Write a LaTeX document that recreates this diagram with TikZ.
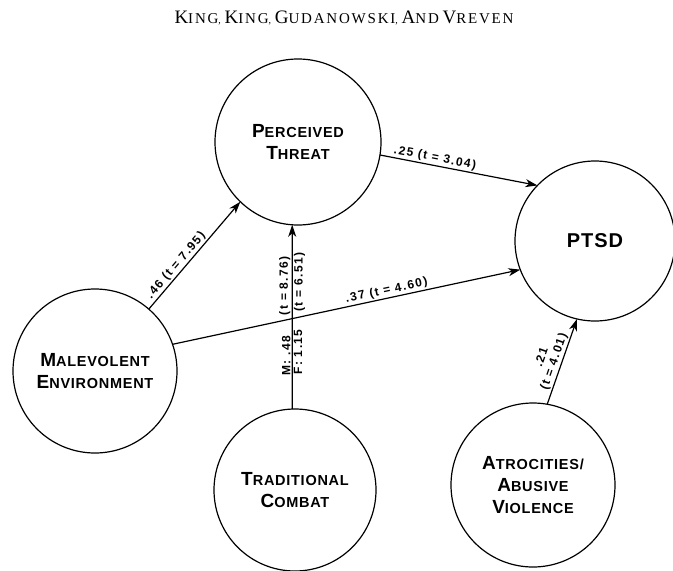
\documentclass[tikz,border=0pt]{standalone}
\usepackage{fontspec}
\setmainfont{Liberation Serif}
\newfontfamily\headfont{Liberation Serif}[LetterSpace=12]
\newfontfamily\namefont{Liberation Sans}[LetterSpace=5]
\newfontfamily\coeffont{Liberation Sans}[LetterSpace=12]
\usetikzlibrary{arrows.meta}

% small-capital words: large initial, smaller remainder
\newcommand{\headcap}[2]{{\fontsize{19}{20}\selectfont #1}{\fontsize{15}{16}\selectfont #2}}
\newcommand{\namecap}[2]{{\fontsize{19}{20}\selectfont #1}{\fontsize{14.5}{16}\selectfont #2}}

\begin{document}
\begin{tikzpicture}[x=1pt,y=-1pt,
  factor/.style={circle, draw, line width=1.2pt, inner sep=0pt, outer sep=0pt,
    align=center, font=\namefont\bfseries\fontsize{14.5}{22}\selectfont},
  link/.style={line width=1.2pt, -{Stealth[length=12pt,width=8pt,inset=3.5pt]}},
  coef/.style={font=\coeffont\bfseries\fontsize{12}{13}\selectfont, inner sep=1.2pt}
]
\useasboundingbox (0,0) rectangle (673,571);

% running head
\node[font=\headfont] (head) at (344,18)
  {\headcap{K}{ING}, \headcap{K}{ING}, \headcap{G}{UDANOWSKI}, \headcap{A}{ND} \headcap{V}{REVEN}};

% latent factors
\node[factor, minimum size=166pt] (pt) at (298,142) {\namecap{P}{ERCEIVED}\\\namecap{T}{HREAT}};
\node[factor, minimum size=160pt] (ptsd) at (595,241) {{\fontsize{20}{22}\selectfont PTSD}};
\node[factor, minimum size=164pt] (me) at (95,371) {\namecap{M}{ALEVOLENT}\\\namecap{E}{NVIRONMENT}};
\node[factor, minimum size=162pt] (tc) at (295,490) {\namecap{T}{RADITIONAL}\\\namecap{C}{OMBAT}};
\node[factor, minimum size=164pt] (av) at (533,485) {\namecap{A}{TROCITIES/}\\\namecap{A}{BUSIVE}\\\namecap{V}{IOLENCE}};

% structural paths with coefficients
\draw[link] (me.49) -- node[coef, pos=0.36, sloped, above] {.46 (t = 7.95)} (pt.226);
\draw[link] (me.19.5) -- node[coef, pos=0.62, sloped, above] {.37 (t = 4.60)} (ptsd.201);
\draw[link] (pt.-9) -- node[coef, pos=0.34, sloped, above] {.25 (t = 3.04)} (ptsd.136);
\draw[link] (tc.92) --
  node[coef, pos=0.29, sloped, above] {M: .48}
  node[coef, pos=0.67, sloped, above] {(t = 8.76)}
  node[coef, pos=0.31, sloped, below] {F: 1.15}
  node[coef, pos=0.69, sloped, below] {(t = 6.51)}
  (pt.-94.5);
\draw[link] (av.80) -- node[coef, pos=0.47, sloped, above, align=center] {.21\\(t = 4.01)} (ptsd.-103);
\end{tikzpicture}
\end{document}
